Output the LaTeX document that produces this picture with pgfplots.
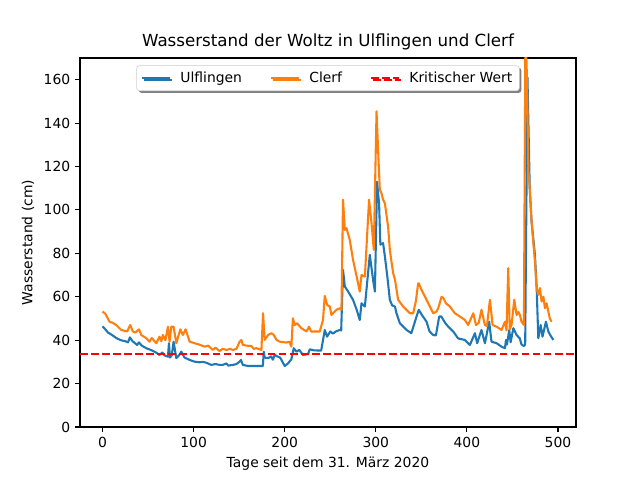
\documentclass[border=0pt]{standalone}
\usepackage{pgfplots}
\pgfplotsset{compat=1.18}
\usepackage{fontspec}
\setmainfont{DejaVu Sans}
\usetikzlibrary{shadows}
\definecolor{c0}{HTML}{1F77B4}
\definecolor{c1}{HTML}{FF7F0E}
\begin{document}
\begin{tikzpicture}
\begin{axis}[
  scale only axis,
  width=357.1pt, height=265.7pt,
  xmin=-24.75, xmax=519.75, ymin=0, ymax=170,
  xtick={0,100,...,500}, ytick={0,20,...,160},
  tick align=outside, major tick length=3.5pt,
  xtick pos=bottom, ytick pos=left,
  tick style={black, line width=0.8pt},
  axis line style={line width=0.8pt},
  /pgf/number format/assume math mode=true,
  ticklabel style={font=\fontsize{10}{12}\selectfont},
  label style={font=\fontsize{10}{12}\selectfont},
  title style={font=\fontsize{12}{14}\selectfont, yshift=-4pt},
  title={Wasserstand der Woltz in Ulflingen und Clerf},
  xlabel={Tage seit dem 31. März 2020},
  ylabel={Wasserstand (cm)},
  legend columns=3,
  legend style={at={(0.5,0.98)}, anchor=north, font=\fontsize{10}{12}\selectfont,
    draw=black!20, rounded corners=2pt, fill=white,
    drop shadow={shadow xshift=1.5pt, shadow yshift=-1.5pt, fill=black!50, opacity=1},
    /tikz/every even column/.append style={column sep=18pt},
    inner xsep=3pt, inner ysep=2.5pt},
  legend cell align=left,
  legend image code/.code={\draw[#1] (0pt,0pt) -- (20pt,0pt);},
  clip=true,
]
\addplot[c0, line width=1.5pt, line join=round] coordinates {
(0,46.4) (3,45) (6,43.5) (10,42.5) (15,41) (20,40) (25,39.5) (28,39) (30,41.3) (33,39.5) (38,37.8) (40,39) (43,37.5) (48,36.3) (53,35.5) (58,34.5) (62.6,33.2) (65.6,34.3) (68,33) (71.8,32.4) (72.9,38.6) (74,32) (76,33) (78,39.3) (81,31.7) (84,33) (86.5,34.7) (90,32) (95.6,30.9) (101,30.1) (106.6,29.8) (110,30) (114,29.6) (119.4,28.6) (124,29) (128.6,28.6) (132,28.6) (136,29.3) (138,28.3) (143,28.6) (147,29) (150.5,30.1) (152,30.9) (154,28.6) (160,28.1) (165,28.1) (172,28.1) (176,28.1) (177,34.7) (178,32) (181.7,31.7) (185,32.5) (187,31) (189,33.2) (192,32.5) (195,32) (200,28.1) (203.6,29.3) (207.3,31.2) (209.9,36.3) (212.8,34.7) (216,35.5) (220,33.2) (225.6,33.6) (227.5,35.8) (232,35.3) (240,35.2) (244,44.7) (246.5,41.6) (250,44) (253,43) (256,44) (260.4,44.7) (262,44.5) (264,72.4) (266,64.7) (269.6,62.4) (275,58.6) (279,54) (282.4,49.3) (284.3,57) (288,55.5) (293.4,79.3) (297,67.8) (299,62.4) (301.4,113) (303.6,103) (305,84) (308,84.7) (310,78.5) (313,68) (315.4,58.6) (318,56) (321,55.5) (322.7,52.4) (326.4,47.8) (333.7,44.7) (339,43.2) (344.7,50.9) (347.2,54) (350,52) (355.7,48.5) (359,44) (363,42.4) (366,42.2) (369.6,50.9) (372,50.9) (376,48) (380,46) (385,44) (390.4,40.8) (397.8,40.1) (403.3,37.8) (408.8,43.2) (411.3,38.6) (416,44.7) (419.8,38.6) (424.5,48.5) (427,39.3) (432.6,38.6) (438,37) (441.8,36.3) (442.9,40.1) (444,38) (446.5,44.7) (448,39) (451,45.5) (454.6,42.4) (458,40.8) (460,38) (462.6,37.3) (464,38) (466.5,161) (469,110) (471,94.7) (474.7,79.3) (476.6,64) (478.4,40.9) (481,47) (483,41.6) (486.8,48.5) (489.4,44) (492,42) (495,40.1)
};
\addlegendentry{\hspace{5pt}Ulflingen}
\addplot[c1, line width=1.5pt, line join=round] coordinates {
(0,53.2) (3,52.2) (7.7,48.5) (11,48) (15,47) (20.5,44.7) (27,44) (30.4,47) (33.3,44) (36,43.5) (40,45) (42.5,42.4) (48,40.9) (51.6,39.3) (54,41) (59,38.6) (62.6,41.6) (64.5,39.5) (66.3,42.4) (69,40) (71.8,46.2) (73.6,39.3) (75.5,46.2) (78,46.2) (81,38.6) (85.4,45) (88.2,42.4) (91.2,45) (95.6,39.3) (101,38.6) (106,38) (112,37) (116,37.5) (121,35.5) (124,36.5) (128.6,35) (132,36) (136,35.5) (140,36) (143,35.5) (147,36) (150.5,39.3) (152.4,40.1) (154,37.8) (158,37.5) (163.4,37.3) (166,36) (168.9,36.3) (174.4,35.5) (176.2,52.4) (178,40.1) (181.7,42.4) (185.4,43.2) (188,42.4) (191,40.1) (194.5,39.3) (201.8,38.9) (205,39.3) (207.3,37) (209,50.1) (211,47) (213.5,47.8) (218.3,45.5) (224,44) (226.7,46.2) (229,44) (238.5,44) (242,49.3) (244,60.4) (246.6,56.2) (249.5,55.5) (251.3,51.6) (253,52.4) (256.8,54) (260.4,54.7) (262.3,54) (264,104.7) (266,90.8) (267.8,91.6) (271.4,86.2) (275,77) (279,69.3) (282.4,62.4) (284.3,70) (288,69.3) (292.6,104.7) (295.3,93.9) (297.8,81.6) (300.8,145.4) (302.5,127.7) (304.4,109.3) (306,108) (308,104.7) (310,103) (313.5,92.3) (315.4,81.6) (319,70.9) (321,68) (324.5,58.6) (330,55.5) (333.7,54) (337.4,52.4) (341,52.4) (344,58) (346.5,66.2) (347.2,66.2) (350.2,63.2) (355.7,58.6) (361.2,54) (363,52.4) (366.7,53.2) (368.5,54.7) (372.2,60) (374,59.5) (377,57) (381.3,55.5) (386.8,52.4) (392.3,50.9) (397.8,49.3) (401.4,47) (407,52.4) (410,47) (413,48) (416,54) (419.8,47) (422,46.5) (425.3,58.6) (428.2,47) (432.6,46.2) (438,44.7) (441.8,48.5) (443.5,44.5) (445.4,73.2) (447,45) (449,47) (452,58.6) (454.6,51.6) (456.5,53) (458.2,51.6) (460,48.5) (462.6,47) (464.3,185) (466,160) (467.5,118) (469,110) (471,94.7) (474.7,76.2) (476.6,64) (478.4,60.9) (480.2,64) (482,57.8) (484,60) (485.7,54.7) (487.5,57) (489.5,53) (491,50) (493,48.5)
};
\addlegendentry{\hspace{5pt}Clerf}
\addplot[red, line width=1.5pt, dash pattern=on 5.55pt off 2.4pt] coordinates {(-24.75,33.5) (519.75,33.5)};
\addlegendentry{\hspace{5pt}Kritischer Wert}
\end{axis}
\path (current axis.south west) ++(-57.6pt,-38.16pt) rectangle ++(460.8pt,345.6pt);
\end{tikzpicture}
\end{document}
